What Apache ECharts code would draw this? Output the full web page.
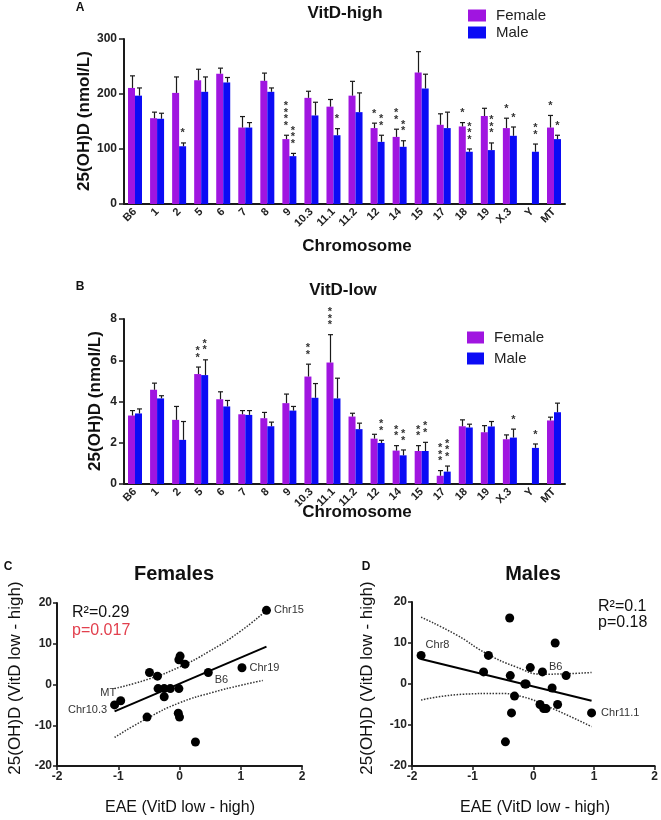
<!DOCTYPE html>
<html><head><meta charset="utf-8">
<script src="https://cdn.jsdelivr.net/npm/echarts/dist/echarts.min.js"></script>
<style>html,body{margin:0;padding:0;background:#fff}#c{width:661px;height:820px}</style>
</head><body><div id="c"></div>
<script>
// ---------- DATA ----------
const categories = ['B6','1','2','5','6','7','8','9','10.3','11.1','11.2','12','14','15','17','18','19','X.3','Y','MT'];
const highTicks = [0,100,200,300];
const lowTicks = [0,2,4,6,8];

const highFemale    = [211,156,202,225,237,139,224,118,193,177,197,138,122,239,144,141,160,138,null,139];
const highFemaleErr = [233,167,231,245,247,159,238,125,205,190,223,147,136,277,164,148,174,156,null,161];
const highMale      = [197,155,105,204,221,139,204, 87,161,125,167,113,104,210,138, 95, 98,124, 95,118];
const highMaleErr   = [211,165,111,231,230,148,211, 92,185,137,202,125,115,236,167,100,111,140,109,125];
const highFemaleStars = [0,0,0,0,0,0,0,4,0,0,0,1,2,0,0,1,0,1,0,1];
const highMaleStars   = [0,0,1,0,0,0,0,3,0,1,0,2,2,0,0,3,3,1,2,1];

const lowFemale    = [3.32,4.57,3.11,5.33,4.11,3.38,3.19,3.92,5.21,5.89,3.27,2.20,1.62,1.60,0.40,2.80,2.51,2.17,null,3.08];
const lowFemaleErr = [3.56,4.89,3.76,5.67,4.47,3.56,3.47,4.36,5.81,7.24,3.43,2.41,1.86,1.86,0.65,3.11,2.83,2.38,null,3.24];
const lowMale      = [3.42,4.15,2.14,5.28,3.76,3.35,2.80,3.56,4.18,4.15,2.66,1.99,1.39,1.60,0.60,2.74,2.79,2.25,1.75,3.48];
const lowMaleErr   = [3.64,4.28,3.03,6.02,4.05,3.56,3.00,3.76,4.87,5.13,2.95,2.12,1.65,2.02,0.87,2.90,3.03,2.66,1.94,3.92];
const lowFemaleStars = [0,0,0,2,0,0,0,0,2,3,0,0,2,2,3,0,0,0,0,0];
const lowMaleStars   = [0,0,0,2,0,0,0,0,0,0,0,2,2,2,3,0,0,1,1,0];

const femalesX = [-1.06,-0.96,-0.53,-0.49,-0.36,-0.35,-0.25,-0.25,-0.15,-0.01,-0.01,0.01,0.09,-0.02,0.00,0.26,0.47,1.02,1.42];
const femalesY = [-5.0,-4.0,-8.0,2.95,2.05,-1.0,-1.0,-3.0,-1.0,-1.0,6.07,6.97,5.0,-7.05,-8.0,-14.1,2.95,4.1,18.2];
const femalesNames = ['Chr10.3','MT','','','','','','','','','','','','','','','B6','Chr19','Chr15'];
const femalesFit = [[-1.06,-6.6],[1.42,9.3]];
const femalesUpper = [[-1.06,-1.0],[-0.49,1.4],[0.0,4.3],[0.47,8.0],[0.98,12.9],[1.42,18.2]];
const femalesLower = [[-1.06,-13.0],[-0.54,-8.4],[0.0,-4.5],[0.55,-1.9],[1.0,-0.2],[1.36,1.0]];

const malesX = [-1.85,-0.82,-0.74,-0.39,-0.38,-0.36,-0.31,-0.46,-0.14,-0.12,-0.05,0.15,0.11,0.17,0.21,0.31,0.36,0.40,0.54,0.96];
const malesY = [6.97,2.95,6.97,16.1,2.05,-7.05,-2.95,-14.1,0,0,4.0,2.95,-5.0,-6.0,-6.0,-0.98,10.0,-5.0,2.05,-7.05];
const malesNames = ['Chr8','','','','','','','','','','','B6','','','','','','','','Chr11.1'];
const malesFit = [[-1.85,6.1],[0.96,-4.1]];
const malesUpper = [[-1.85,16.3],[-1.27,12.0],[-0.78,7.5],[-0.29,4.2],[0.15,2.4],[0.55,2.5],[0.96,2.8]];
const malesLower = [[-1.85,-3.9],[-1.16,-2.5],[-0.61,-2.3],[-0.18,-3.1],[0.26,-5.6],[0.96,-10.4]];

// ---------- STYLE ----------
const FONT = 'Arial, "Liberation Sans", Helvetica, sans-serif';
const FEMALE = '#a015e0';
const MALE = '#0b0bf5';
const INK = '#1a1a1a';
const BARW = 7;

const labelPosC = {
  'Chr10.3': {position:'left', distance:3, offset:[0,5]},
  'MT': {position:'left', distance:0, offset:[0,-8]},
  'B6': {position:'right', distance:2, offset:[0,7]},
  'Chr19': {position:'right', distance:3},
  'Chr15': {position:'right', distance:3}
};
const labelPosD = {
  'Chr8': {position:'right', distance:0, offset:[0,-10]},
  'B6': {position:'right', distance:2, offset:[0,-5]},
  'Chr11.1': {position:'right', distance:5}
};

function errData(vals, errs, side){
  const out = [];
  vals.forEach((v,i)=>{ if(v!=null && errs[i]!=null) out.push([i, errs[i], v, side]); });
  return out;
}
function starData(errs, counts, side){
  const out = [];
  counts.forEach((n,i)=>{ if(n>0) out.push([i, errs[i], n, side]); });
  return out;
}
function renderErr(params, api){
  const i = api.value(0), top = api.value(1), v = api.value(2), side = api.value(3);
  const b = api.coord([i, v]); const t = api.coord([i, top]);
  const x = Math.round(b[0] + side*BARW/2) + 0.5;
  return {type:'group', children:[
    {type:'line', shape:{x1:x, y1:b[1], x2:x, y2:t[1]}, style:{stroke:INK, lineWidth:1.2}},
    {type:'line', shape:{x1:x-2.5, y1:t[1], x2:x+2.5, y2:t[1]}, style:{stroke:INK, lineWidth:1.2}}
  ]};
}
function renderStars(params, api){
  const i = api.value(0), top = api.value(1), n = api.value(2), side = api.value(3);
  const t = api.coord([i, top]);
  const x = t[0] + side*BARW/2;
  const ch = [];
  for(let k=0;k<n;k++){
    ch.push({type:'text', style:{text:'*', x:x, y:t[1]-4-k*6.5, align:'center', verticalAlign:'bottom', font:'bold 11px '+FONT, fill:'#333'}});
  }
  return {type:'group', children:ch};
}
function scatterData(xs, ys, names, posMap){
  return xs.map((x,i)=>{
    const d = {value:[x, ys[i]]};
    const nm = names[i];
    if(nm){
      d.label = Object.assign({show:true, formatter:nm, fontSize:11, fontFamily:FONT, color:'#333'}, posMap[nm]);
    }
    return d;
  });
}

function catX(grid){
  return {type:'category', gridIndex:grid, data:categories,
    axisLine:{lineStyle:{color:INK, width:2}},
    axisTick:{alignWithLabel:true, length:4, lineStyle:{color:INK, width:1.5}},
    axisLabel:{interval:0, rotate:45, margin:6, fontSize:11, fontWeight:'bold', fontFamily:FONT, color:'#222'},
    splitLine:{show:false}};
}
function valY(grid, ticks){
  return {type:'value', gridIndex:grid, min:ticks[0], max:ticks[ticks.length-1], interval:ticks[1]-ticks[0],
    axisLine:{show:true, onZero:false, lineStyle:{color:INK, width:2}},
    axisTick:{show:true, length:5, lineStyle:{color:INK, width:1.5}},
    axisLabel:{margin:7, fontSize:12, fontWeight:'bold', fontFamily:FONT, color:'#222'},
    splitLine:{show:false}};
}
function sxX(grid){
  return {type:'value', gridIndex:grid, min:-2, max:2, interval:1,
    axisLine:{show:true, onZero:false, lineStyle:{color:INK, width:2}},
    axisTick:{show:true, length:4, lineStyle:{color:INK, width:1.5}},
    axisLabel:{margin:5, fontSize:12, fontWeight:'bold', fontFamily:FONT, color:'#222'},
    splitLine:{show:false}};
}
function sxY(grid){
  return {type:'value', gridIndex:grid, min:-20, max:20, interval:10,
    axisLine:{show:true, onZero:false, lineStyle:{color:INK, width:2}},
    axisTick:{show:true, length:4, lineStyle:{color:INK, width:1.5}},
    axisLabel:{margin:5, fontSize:12, fontWeight:'bold', fontFamily:FONT, color:'#222'},
    splitLine:{show:false}};
}

function txt(text, x, y, size, weight){
  return {type:'text', x:x, y:y, style:{text:text, font:(weight||'normal')+' '+size+'px '+FONT, fill:'#111', align:'center', verticalAlign:'middle'}};
}
function rtxt(text, x, y, size, weight){
  return {type:'text', x:x, y:y, rotation:Math.PI/2, style:{text:text, font:weight+' '+size+'px '+FONT, fill:'#111', align:'center', verticalAlign:'middle'}};
}

const chart = echarts.init(document.getElementById('c'), null, {renderer:'canvas'});
const option = {
  animation:false,
  backgroundColor:'#fff',
  grid:[
    {left:124, top:39, width:441, height:165},
    {left:124, top:319, width:441, height:165},
    {left:57, top:603, width:245, height:163},
    {left:412, top:602, width:245, height:164}
  ],
  xAxis:[catX(0), catX(1), sxX(2), sxX(3)],
  yAxis:[valY(0, highTicks), valY(1, lowTicks), sxY(2), sxY(3)],
  legend:[
    {data:['Female','Male'], left:468, top:8, orient:'vertical', icon:'rect', itemWidth:18, itemHeight:12, itemGap:2, padding:0, selectedMode:false,
      textStyle:{fontSize:15, fontFamily:FONT, color:'#222', lineHeight:13, padding:[0,0,0,5]}},
    {data:['Female','Male'], left:467, top:330, orient:'vertical', icon:'rect', itemWidth:17, itemHeight:12, itemGap:6, padding:0, selectedMode:false,
      textStyle:{fontSize:15, fontFamily:FONT, color:'#222', lineHeight:13, padding:[0,0,0,5]}}
  ],
  series:[
    {name:'Female', type:'bar', xAxisIndex:0, yAxisIndex:0, data:highFemale, barWidth:BARW, barGap:'0%', itemStyle:{color:FEMALE}},
    {name:'Male', type:'bar', xAxisIndex:0, yAxisIndex:0, data:highMale, barWidth:BARW, barGap:'0%', itemStyle:{color:MALE}},
    {type:'custom', xAxisIndex:0, yAxisIndex:0, renderItem:renderErr, data:errData(highFemale, highFemaleErr, -1).concat(errData(highMale, highMaleErr, 1)), z:5},
    {type:'custom', xAxisIndex:0, yAxisIndex:0, renderItem:renderStars, data:starData(highFemaleErr, highFemaleStars, -1).concat(starData(highMaleErr, highMaleStars, 1)), z:6},
    {name:'Female', type:'bar', xAxisIndex:1, yAxisIndex:1, data:lowFemale, barWidth:BARW, barGap:'0%', itemStyle:{color:FEMALE}},
    {name:'Male', type:'bar', xAxisIndex:1, yAxisIndex:1, data:lowMale, barWidth:BARW, barGap:'0%', itemStyle:{color:MALE}},
    {type:'custom', xAxisIndex:1, yAxisIndex:1, renderItem:renderErr, data:errData(lowFemale, lowFemaleErr, -1).concat(errData(lowMale, lowMaleErr, 1)), z:5},
    {type:'custom', xAxisIndex:1, yAxisIndex:1, renderItem:renderStars, data:starData(lowFemaleErr, lowFemaleStars, -1).concat(starData(lowMaleErr, lowMaleStars, 1)), z:6},
    {type:'line', xAxisIndex:2, yAxisIndex:2, data:femalesUpper, smooth:true, symbol:'none', lineStyle:{color:'#333', width:1.5, type:'dotted'}},
    {type:'line', xAxisIndex:2, yAxisIndex:2, data:femalesLower, smooth:true, symbol:'none', lineStyle:{color:'#333', width:1.5, type:'dotted'}},
    {type:'line', xAxisIndex:2, yAxisIndex:2, data:femalesFit, symbol:'none', lineStyle:{color:'#000', width:2}},
    {type:'scatter', xAxisIndex:2, yAxisIndex:2, data:scatterData(femalesX, femalesY, femalesNames, labelPosC), symbolSize:9, itemStyle:{color:'#000', opacity:1}, z:4},
    {type:'line', xAxisIndex:3, yAxisIndex:3, data:malesUpper, smooth:true, symbol:'none', lineStyle:{color:'#333', width:1.5, type:'dotted'}},
    {type:'line', xAxisIndex:3, yAxisIndex:3, data:malesLower, smooth:true, symbol:'none', lineStyle:{color:'#333', width:1.5, type:'dotted'}},
    {type:'line', xAxisIndex:3, yAxisIndex:3, data:malesFit, symbol:'none', lineStyle:{color:'#000', width:2}},
    {type:'scatter', xAxisIndex:3, yAxisIndex:3, data:scatterData(malesX, malesY, malesNames, labelPosD), symbolSize:9, itemStyle:{color:'#000', opacity:1}, z:4}
  ],
  graphic:[
    txt('A', 80, 8, 12, 'bold'),
    txt('B', 80, 287, 12, 'bold'),
    txt('C', 8, 567, 12, 'bold'),
    txt('D', 366, 567, 12, 'bold'),
    txt('VitD-high', 345, 13, 17, 'bold'),
    txt('VitD-low', 343, 290, 17, 'bold'),
    txt('Chromosome', 357, 246, 17, 'bold'),
    txt('Chromosome', 357, 512, 17, 'bold'),
    rtxt('25(OH)D (nmol/L)', 84, 121, 17, 'bold'),
    rtxt('25(OH)D (nmol/L)', 95, 401, 17, 'bold'),
    txt('Females', 174, 574, 20, 'bold'),
    txt('Males', 533, 574, 20, 'bold'),
    txt('EAE (VitD low - high)', 180, 808, 16, 'normal'),
    txt('EAE (VitD low - high)', 535, 808, 16, 'normal'),
    rtxt('25(OH)D (VitD low - high)', 15, 678, 17, 'normal'),
    rtxt('25(OH)D (VitD low - high)', 367, 678, 17, 'normal'),
    {type:'text', x:72, y:613, style:{text:'R²=0.29', font:'16px '+FONT, fill:'#111', align:'left', verticalAlign:'middle'}},
    {type:'text', x:72, y:631, style:{text:'p=0.017', font:'16px '+FONT, fill:'#e2404e', align:'left', verticalAlign:'middle'}},
    {type:'text', x:598, y:607, style:{text:'R²=0.1', font:'16px '+FONT, fill:'#111', align:'left', verticalAlign:'middle'}},
    {type:'text', x:598, y:623, style:{text:'p=0.18', font:'16px '+FONT, fill:'#111', align:'left', verticalAlign:'middle'}}
  ]
};
chart.setOption(option);
</script>
</body></html>
